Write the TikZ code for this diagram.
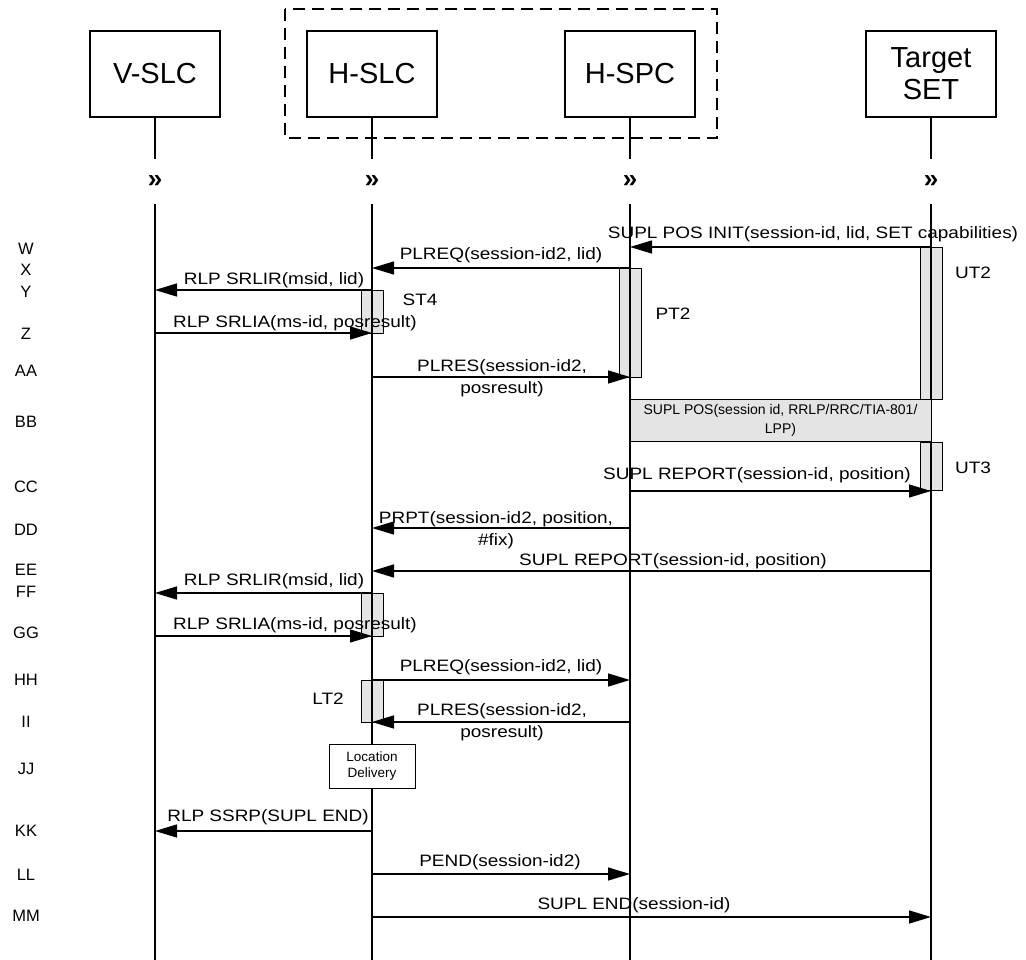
\documentclass[tikz,border=0pt]{standalone}
\usepackage{fontspec}
\setmainfont{Liberation Sans}
\newfontfamily\msgfont[FakeStretch=1.15]{Liberation Sans}
\usetikzlibrary{arrows.meta,calc}
\definecolor{barfill}{RGB}{228,228,228}

\begin{document}
\begin{tikzpicture}[x=1pt, y=-1pt,
    entity/.style={draw, line width=1.1pt, minimum width=130pt, minimum height=86pt, align=center, font=\fontsize{29}{32}\selectfont},
    brk/.style={minimum height=45pt, inner sep=0pt, font=\fontsize{26}{26}\selectfont\bfseries},
    life/.style={line width=1.1pt},
    msg/.style={line width=1.4pt, -{Triangle[length=22pt, width=13pt]}},
    bar/.style={draw, fill=barfill, line width=1pt, minimum width=22pt, inner sep=0pt},
    lbl/.style={anchor=base, inner sep=0pt, align=center, font=\msgfont\fontsize{16.5}{22}\selectfont},
    barlbl/.style={inner sep=0pt, font=\msgfont\fontsize{16.5}{20}\selectfont},
    rowlbl/.style={inner sep=0pt, font=\fontsize{16.5}{20}\selectfont},
    posbox/.style={draw, fill=barfill, line width=1pt, minimum width=301pt, minimum height=42pt, inner sep=0pt, align=center, font=\fontsize{14}{19}\selectfont},
    delivbox/.style={draw, fill=white, line width=1pt, minimum width=86pt, minimum height=44pt, inner sep=0pt, align=center, font=\fontsize{13.5}{16}\selectfont}]
\useasboundingbox (0,0) rectangle (1026,960);

% === 实体 ===
\draw[line width=1.1pt, dash pattern=on 12pt off 7pt] (285,9) rectangle (717,138);
\node[entity] (vslc) at (155,74) {V-SLC};
\node[entity] (hslc) at (372,74) {H-SLC};
\node[entity] (hspc) at (630,74) {H-SPC};
\node[entity] (set) at (931,74) {Target\\SET};

% 行坐标
\coordinate (brkrow) at (0,181.5);
\coordinate (bottom) at (0,960);
\foreach \r/\yy in {W/247, X/268, Y/290, Z/333, AA/377, BB/420, CC/491, DD/528, EE/571, FF/593, GG/636, HH/680, II/722, JJ/766, KK/831, LL/874, MM/917}
    \coordinate (r\r) at (0,\yy);
\foreach \r/\yy in {W/249, X/270, Y/292, Z/334, AA/371, BB/422, CC/487, DD/530, EE/570, FF/592, GG/633, HH/680, II/722, JJ/769, KK/831, LL/875, MM/916}
    \node[rowlbl] (l\r) at (26,\yy) {\r};

% === 计时条 ===
\node[bar, minimum height=152pt, anchor=north] (ut2) at (set |- rW) {};
\node[bar, minimum height=109pt, anchor=north] (pt2) at (hspc |- rX) {};
\node[bar, minimum height=43pt, anchor=north] (st4) at (hslc |- rY) {};
\node[bar, minimum height=48pt, anchor=south] (ut3) at (set |- rCC) {};
\node[bar, minimum height=43pt, anchor=north] (st4b) at (hslc |- rFF) {};
\node[bar, minimum height=42pt, anchor=north] (lt2) at (hslc |- rHH) {};
\node[barlbl] (ut2lbl) at (973,273) {UT2};
\node[barlbl] (pt2lbl) at (673,314) {PT2};
\node[barlbl] (st4lbl) at (420,300) {ST4};
\node[barlbl] (ut3lbl) at (973,468) {UT3};
\node[barlbl] (lt2lbl) at (328,699) {LT2};

% === 生命线 ===
\foreach \e in {vslc,hslc,hspc,set} {
    \node[brk] (\e-brk) at (\e |- brkrow) {»};
    \draw[life] (\e) -- (\e-brk);
    \draw[life] (\e-brk) -- (\e |- bottom);
}

% === 消息 ===
\draw[msg] (set |- rW) -- (hspc |- rW);
\node[lbl] (m1) at (813,239) {SUPL POS INIT(session-id, lid, SET capabilities)};
\draw[msg] (hspc |- rX) -- (hslc |- rX);
\node[lbl] (m2) at (501,260) {PLREQ(session-id2, lid)};
\draw[msg] (hslc |- rY) -- (vslc |- rY);
\node[lbl] (m3) at (274,284) {RLP SRLIR(msid, lid)};
\draw[msg] (vslc |- rZ) -- (hslc |- rZ);
\node[lbl] (m4) at (295,327) {RLP SRLIA(ms-id, posresult)};
\draw[msg] (hslc |- rAA) -- (hspc |- rAA);
\node[lbl] (m5) at (502,393) {PLRES(session-id2,\\posresult)};

\node[posbox] (suplpos) at ($(hspc |- rBB)!0.5!(set |- rBB)$) {SUPL POS(session id, RRLP/RRC/TIA-801/\\LPP)};

\draw[msg] (hspc |- rCC) -- (set |- rCC);
\node[lbl] (m6) at (757,479) {SUPL REPORT(session-id, position)};
\draw[msg] (hspc |- rDD) -- (hslc |- rDD);
\node[lbl] (m7) at (496,545) {PRPT(session-id2, position,\\\#fix)};
\draw[msg] (set |- rEE) -- (hslc |- rEE);
\node[lbl] (m8) at (673,565) {SUPL REPORT(session-id, position)};
\draw[msg] (hslc |- rFF) -- (vslc |- rFF);
\node[lbl] (m9) at (274,585) {RLP SRLIR(msid, lid)};
\draw[msg] (vslc |- rGG) -- (hslc |- rGG);
\node[lbl] (m10) at (295,629) {RLP SRLIA(ms-id, posresult)};
\draw[msg] (hslc |- rHH) -- (hspc |- rHH);
\node[lbl] (m11) at (501,671) {PLREQ(session-id2, lid)};
\draw[msg] (hspc |- rII) -- (hslc |- rII);
\node[lbl] (m12) at (502,737) {PLRES(session-id2,\\posresult)};

\node[delivbox] (locdel) at (hslc |- rJJ) {Location\\Delivery};

\draw[msg] (hslc |- rKK) -- (vslc |- rKK);
\node[lbl] (m13) at (268,821) {RLP SSRP(SUPL END)};
\draw[msg] (hslc |- rLL) -- (hspc |- rLL);
\node[lbl] (m14) at (500,866) {PEND(session-id2)};
\draw[msg] (hslc |- rMM) -- (set |- rMM);
\node[lbl] (m15) at (634,909) {SUPL END(session-id)};
\end{tikzpicture}
\end{document}
